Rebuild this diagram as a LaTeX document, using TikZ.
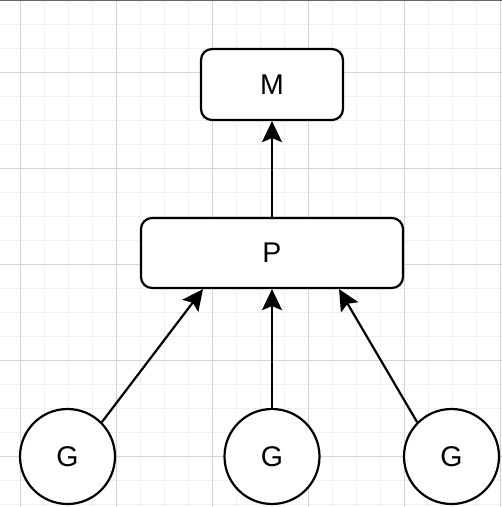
\documentclass[tikz,border=0pt]{standalone}
\usepackage{fontspec}
\setmainfont{Liberation Sans}
\usetikzlibrary{arrows.meta,calc}
\begin{document}
\begin{tikzpicture}[x=1pt,y=-1pt,
  minorgrid/.style={draw=black!6,line width=1pt},
  majorgrid/.style={draw=black!17,line width=1pt},
  box/.style={draw=black,line width=2.2pt,rounded corners=11pt,fill=white,inner sep=0pt,font=\fontsize{28.5}{31}\selectfont},
  gnode/.style={draw=black,line width=2.2pt,circle,fill=white,inner sep=0pt,minimum size=95pt,font=\fontsize{28.5}{31}\selectfont},
  link/.style={draw=black,line width=2.2pt,-{Stealth[length=21pt,width=20pt,inset=4pt]}}
]
\useasboundingbox (0,0) rectangle (502,507);
\fill[white] (0,0) rectangle (502,507);
% minor grid
\foreach \x in {44,68,92,140,164,188,236,260,284,332,356,380,428,452,476}
  \draw[minorgrid] (\x,0) -- (\x,507);
\foreach \y in {24,48,96,120,144,192,216,240,288,312,336,384,408,432,480,504}
  \draw[minorgrid] (0,\y) -- (502,\y);
% major grid
\foreach \x in {20,116,212,308,404,500}
  \draw[majorgrid] (\x,0) -- (\x,507);
\foreach \y in {72,168,264,360,456}
  \draw[majorgrid] (0,\y) -- (502,\y);
\draw[black!60,line width=1pt] (0,0.5) -- (502,0.5);

\node[box,minimum width=142pt,minimum height=71pt] (m) at (272,84.5) {M};
\node[box,minimum width=262pt,minimum height=70pt] (p) at (272,253) {P};
\node[gnode] (g1) at (67.5,456.5) {G};
\node[gnode] (g2) at (272,456.5) {G};
\node[gnode] (g3) at (451.5,456.5) {G};

\draw[link] (p.north) -- (m.south);
\draw[link] (g1.45) -- ($(p.south)+(-69,0)$);
\draw[link] (g2.north) -- (p.south);
\draw[link] (g3.135) -- ($(p.south)+(67,0)$);
\end{tikzpicture}
\end{document}
